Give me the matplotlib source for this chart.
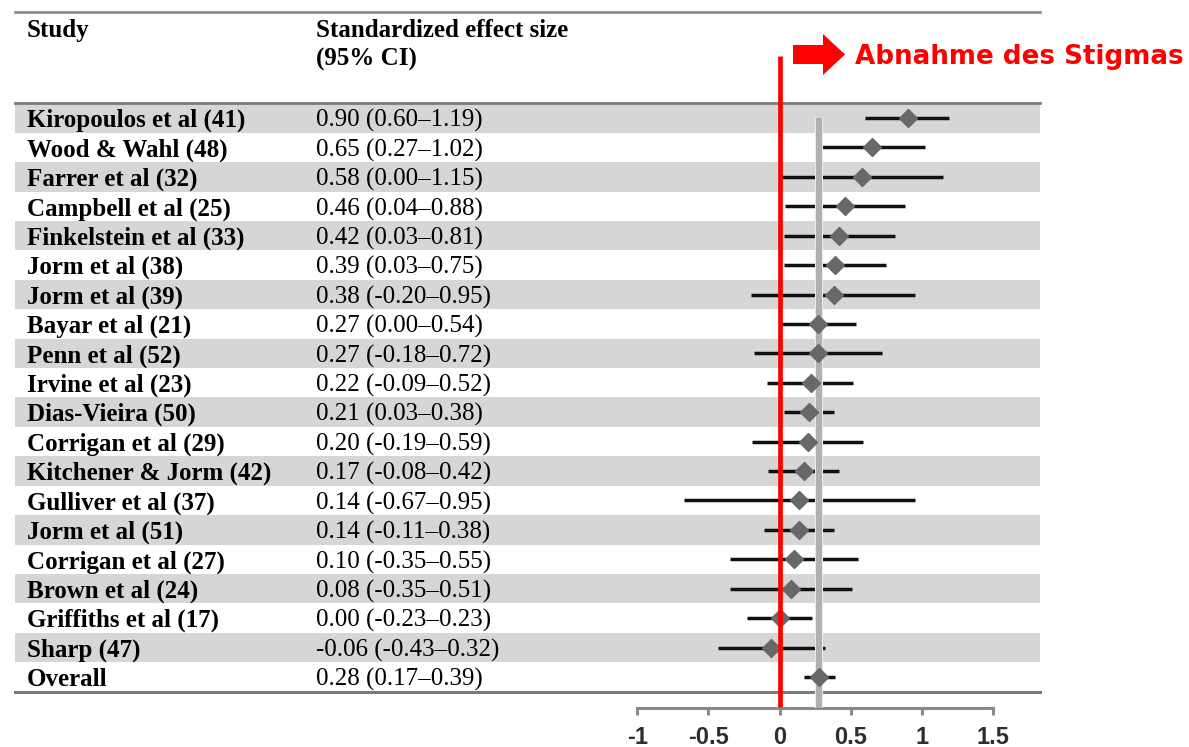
import numpy as np
import matplotlib
matplotlib.use("Agg")
import matplotlib.pyplot as plt
import matplotlib.transforms as mtransforms
import matplotlib.patheffects as pe
from matplotlib.patches import FancyArrow

##################################################
# Data: standardized effect sizes with 95% CI

studies = ["Kiropoulos et al (41)", "Wood & Wahl (48)", "Farrer et al (32)",
           "Campbell et al (25)", "Finkelstein et al (33)", "Jorm et al (38)",
           "Jorm et al (39)", "Bayar et al (21)", "Penn et al (52)",
           "Irvine et al (23)", "Dias-Vieira (50)", "Corrigan et al (29)",
           "Kitchener & Jorm (42)", "Gulliver et al (37)", "Jorm et al (51)",
           "Corrigan et al (27)", "Brown et al (24)", "Griffiths et al (17)",
           "Sharp (47)", "Overall"]
effect = [0.90, 0.65, 0.58, 0.46, 0.42, 0.39, 0.38, 0.27, 0.27, 0.22,
          0.21, 0.20, 0.17, 0.14, 0.14, 0.10, 0.08, 0.00, -0.06, 0.28]
lower = [0.60, 0.27, 0.00, 0.04, 0.03, 0.03, -0.20, 0.00, -0.18, -0.09,
         0.03, -0.19, -0.08, -0.67, -0.11, -0.35, -0.35, -0.23, -0.43, 0.17]
upper = [1.19, 1.02, 1.15, 0.88, 0.81, 0.75, 0.95, 0.54, 0.72, 0.52,
         0.38, 0.59, 0.42, 0.95, 0.38, 0.55, 0.51, 0.23, 0.32, 0.39]

xticks = [-1, -0.5, 0, 0.5, 1, 1.5]
xticklabels = ["-1", "-0.5", "0", "0.5", "1", "1.5"]

header_study = "Study"
header_es = ["Standardized effect size", "(95% CI)"]
direction_label = "Abnahme des Stigmas"

##################################################
# Figure: one axes over the whole canvas, x in effect units, y in rows

plt.rcParams['font.family'] = ['Liberation Serif', 'DejaVu Serif']

W, H = 1189, 747
fig = plt.figure(figsize=(W / 100, H / 100), dpi=100)
ax = fig.add_axes([0, 0, 1, 1])

x0_px, unit_px = 779.5, 142.3   # pixel of effect 0, pixels per unit
y0_px, row_px = 118.0, 29.42    # pixel of first row centre, pixels per row
ax.set_xlim((0 - x0_px) / unit_px, (W - x0_px) / unit_px)
ax.set_ylim((H - y0_px) / row_px, (0 - y0_px) / row_px)

def px_row(py):
    return (py - y0_px) / row_px

def px_x(px):
    return (px - x0_px) / unit_px

n = len(studies)
rows = np.arange(n)
left, right = 15 / W, 1040 / W

# alternating grey bands
for i in rows:
    if i % 2 == 0:
        ax.axhspan(i - 0.5, i + 0.5, xmin=left, xmax=right,
                   color='#d6d6d6', lw=0, zorder=0)

# table rules
ax.axhline(px_row(12), xmin=left, xmax=right, color='#8c8c8c', lw=2, zorder=1)
ax.axhline(-0.52, xmin=left, xmax=right, color='#7a7a7a', lw=2, zorder=1)
ax.axhline(n - 0.5, xmin=left, xmax=right, color='#7a7a7a', lw=2.2, zorder=1)

# text columns
tr = mtransforms.blended_transform_factory(fig.transFigure, ax.transData)
ax.text(27 / W, px_row(36.5), header_study, transform=tr, fontsize=18,
        fontweight='bold', va='baseline', ha='left')
ax.text(316 / W, px_row(36.5), header_es[0], transform=tr, fontsize=18,
        fontweight='bold', va='baseline', ha='left')
ax.text(316 / W, px_row(65.5), header_es[1], transform=tr, fontsize=18,
        fontweight='bold', va='baseline', ha='left')
for i in rows:
    ax.text(27 / W, i + 0.3, studies[i], transform=tr, fontsize=18,
            fontweight='bold', va='baseline', ha='left', zorder=3)
    ax.text(316 / W, i + 0.3,
            "%.2f (%.2f\u2013%.2f)" % (effect[i], lower[i], upper[i]),
            transform=tr, fontsize=18, va='baseline', ha='left', zorder=3)

# confidence intervals
ax.hlines(rows, lower, upper, color='#111111', lw=2.5, zorder=2)

# overall effect reference line
axis_row = px_row(708)
ax.vlines(effect[-1], 0.0, axis_row, color='#b0b0b0', lw=4.5, zorder=3,
          path_effects=[pe.Stroke(linewidth=5.8, foreground='#f4f4f4'),
                        pe.Normal()])

# point estimates
ax.plot(effect, rows, 'D', color='#686868', ms=9.5, mec='#686868', zorder=4)

# zero line
ax.vlines(0, px_row(56), axis_row - 0.05, color='#ff0000', lw=3.4, zorder=5)

# direction arrow and label
arrow_y = px_row(54.5)
ax.add_patch(FancyArrow(px_x(793), arrow_y, px_x(845) - px_x(793), 0,
                        width=19 / row_px, head_width=41 / row_px,
                        head_length=22 / unit_px, length_includes_head=True,
                        color='#ff0000', lw=0, zorder=5))
ax.text(px_x(855), px_row(64), direction_label, color='#ff0000',
        fontsize=18.8, fontweight='bold', family='DejaVu Sans',
        va='baseline', ha='left')

# bottom effect axis
for s in ['top', 'left', 'right']:
    ax.spines[s].set_visible(False)
ax.spines['bottom'].set_position(('data', axis_row))
ax.spines['bottom'].set_bounds(-1, 1.5)
ax.spines['bottom'].set_color('#8a8a8a')
ax.spines['bottom'].set_linewidth(2.2)
ax.set_yticks([])
ax.set_xticks(xticks)
ax.set_xticklabels(xticklabels, family='Liberation Sans', fontweight='bold',
                   fontsize=17, color='#2e2e2e')
ax.tick_params(axis='x', direction='out', length=5, width=2.2,
               color='#8a8a8a', pad=8)
ax.patch.set_visible(False)

fig.savefig("out.png", dpi=100, facecolor='white')
